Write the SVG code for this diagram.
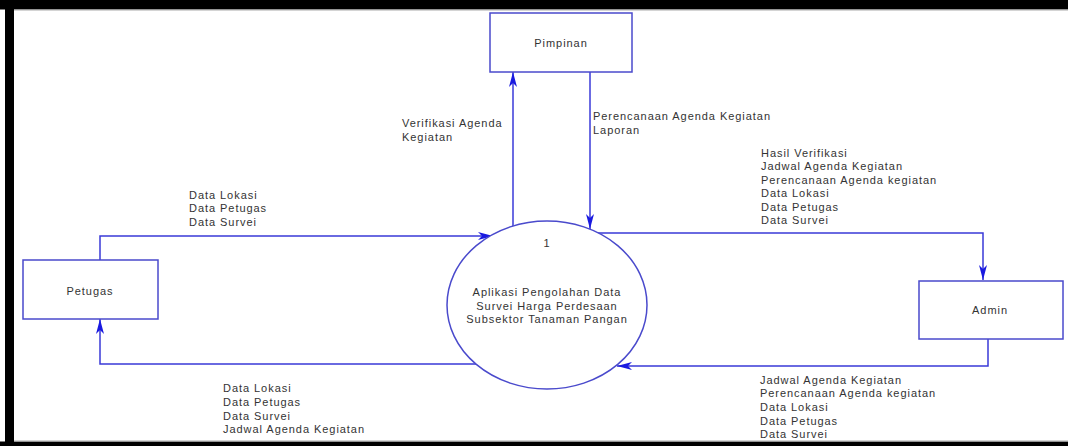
<svg xmlns="http://www.w3.org/2000/svg" width="1068" height="446" viewBox="0 0 1068 446">
<style>
.box{fill:#fff;stroke:#4a4acc;stroke-width:1.5}
.flow{fill:none;stroke:#3a3ad8;stroke-width:1.5}
.t{font-family:"Liberation Sans",Arial,sans-serif;font-size:11px;letter-spacing:0.95px;fill:#333}
.c{text-anchor:middle}
</style>
<defs>
<marker id="ah" markerWidth="16" markerHeight="10" refX="15" refY="5" orient="auto" markerUnits="userSpaceOnUse">
<path d="M0,1 L15,5 L0,9 L4,5 Z" fill="#1a1ae0"/>
</marker>
</defs>
<rect x="0" y="0" width="1068" height="446" fill="#fff"/>
<g id="frame">
<rect x="0" y="0" width="1068" height="9.5" fill="#000"/>
<rect x="5" y="0" width="9" height="446" fill="#000"/>
<rect x="0" y="441.5" width="1068" height="4.5" fill="#000"/>
<line x1="14" y1="10" x2="1068" y2="10" stroke="#aaa" stroke-width="1"/>
<line x1="14" y1="441" x2="1068" y2="441" stroke="#aaa" stroke-width="1"/>
</g>
<g id="connectors">
<path class="flow" d="M513,226 V72" marker-end="url(#ah)"/>
<path class="flow" d="M590,72 V229" marker-end="url(#ah)"/>
<path class="flow" d="M100,260 V236 H493" marker-end="url(#ah)"/>
<path class="flow" d="M598,233 H983 V280" marker-end="url(#ah)"/>
<path class="flow" d="M988,339 V366 H617" marker-end="url(#ah)"/>
<path class="flow" d="M476,364 H100 V319" marker-end="url(#ah)"/>
<text class="t" x="402" y="127">Verifikasi Agenda</text>
<text class="t" x="402" y="141">Kegiatan</text>
<text class="t" x="593" y="120">Perencanaan Agenda Kegiatan</text>
<text class="t" x="593" y="134">Laporan</text>
<text class="t" x="189" y="199">Data Lokasi</text>
<text class="t" x="189" y="212">Data Petugas</text>
<text class="t" x="189" y="226">Data Survei</text>
<text class="t" x="761" y="157">Hasil Verifikasi</text>
<text class="t" x="761" y="170">Jadwal Agenda Kegiatan</text>
<text class="t" x="761" y="184">Perencanaan Agenda kegiatan</text>
<text class="t" x="761" y="197">Data Lokasi</text>
<text class="t" x="761" y="211">Data Petugas</text>
<text class="t" x="761" y="224">Data Survei</text>
<text class="t" x="760" y="384">Jadwal Agenda Kegiatan</text>
<text class="t" x="760" y="397">Perencanaan Agenda kegiatan</text>
<text class="t" x="760" y="411">Data Lokasi</text>
<text class="t" x="760" y="425">Data Petugas</text>
<text class="t" x="760" y="438">Data Survei</text>
<text class="t" x="223" y="392">Data Lokasi</text>
<text class="t" x="223" y="406">Data Petugas</text>
<text class="t" x="223" y="420">Data Survei</text>
<text class="t" x="223" y="433">Jadwal Agenda Kegiatan</text>
</g>
<g id="pimpinan">
<rect class="box" x="490" y="13" width="142" height="59"/>
<text class="t c" x="561" y="47">Pimpinan</text>
</g>
<g id="petugas">
<rect class="box" x="23" y="260" width="135" height="59"/>
<text class="t c" x="90" y="295">Petugas</text>
</g>
<g id="admin">
<rect class="box" x="919" y="281" width="144" height="58"/>
<text class="t c" x="990" y="314">Admin</text>
</g>
<g id="process1">
<ellipse cx="547" cy="305" rx="100" ry="84" fill="#fff" stroke="#4a4acc" stroke-width="1.5"/>
<text class="t c" x="547" y="247">1</text>
<text class="t c" x="547" y="296">Aplikasi Pengolahan Data</text>
<text class="t c" x="547" y="310">Survei Harga Perdesaan</text>
<text class="t c" x="547" y="323">Subsektor Tanaman Pangan</text>
</g>
</svg>
